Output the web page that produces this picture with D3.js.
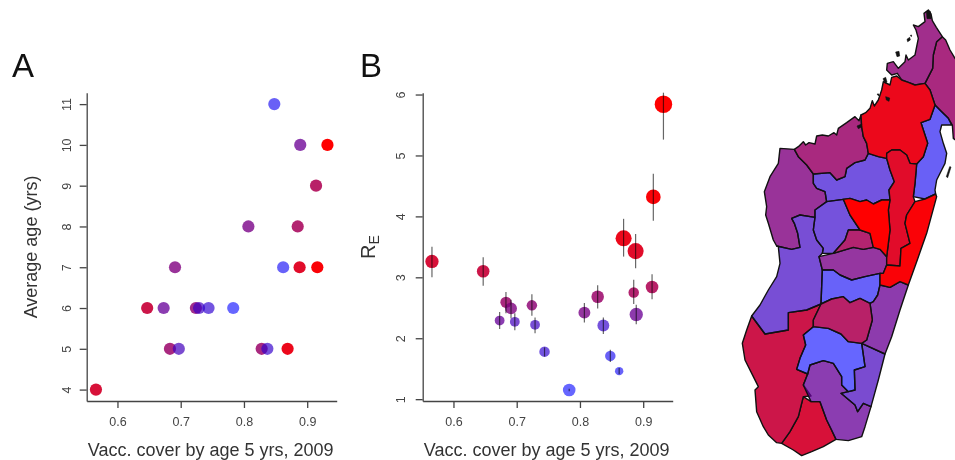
<!DOCTYPE html>
<html>
<head>
<meta charset="utf-8">
<script src="https://cdn.jsdelivr.net/npm/d3@7"></script>
<style>
  html, body { margin: 0; background: #fff; }
  svg { display: block; filter: blur(0.4px); }
  text { font-family: "Liberation Sans", Arial, sans-serif; }
</style>
</head>
<body>
<svg width="955" height="460"></svg>
<script>
// one entry per district, sorted by vaccination cover
var coverage = [.566, .647, .673, .683, .691, .697, .724, .729, .744, .783, .807,
                .828, .837, .848, .862, .869, .885, .888, .889, .914, .916, .932]
var averageAge = [4, 6, 6, 5, 7, 5, 6, 6, 6, 6, 8, 5, 5, 11, 7, 5, 8, 7, 10, 9, 7, 10]
var re = [3.26, 3.10, 2.29, 2.59, 2.49, 2.27, 2.54, 2.22, 1.78, 1.15, 2.42,
          2.68, 2.21, 1.71, 1.46, 3.64, 2.75, 3.43, 2.39, 2.84, 4.32, 5.84]
var reLow = [3.00, 2.86, 2.15, 2.41, 2.33, 2.13, 2.37, 2.08, 1.70, 1.13, 2.26,
             2.49, 2.07, 1.61, 1.41, 3.34, 2.56, 3.15, 2.23, 2.64, 3.93, 5.26]
var reHigh = [3.50, 3.33, 2.43, 2.76, 2.63, 2.41, 2.72, 2.34, 1.85, 1.17, 2.58,
              2.87, 2.34, 1.81, 1.51, 3.96, 2.96, 3.71, 2.55, 3.05, 4.70, 6.03]
var weight = [1.9, 1.8, 1.4, 1.6, 1.7, 1.4, 1.5, 1.4, 1.5, 1.8, 1.7,
              1.8, 1.7, 1.5, 1.2, 2.3, 1.5, 2.3, 1.9, 1.8, 2.1, 2.5]
var redness = [.83, .78, .40, .60, .50, .26, .55, .24, .18, 0, .47,
               .60, .20, .06, .04, .92, .65, .88, .42, .68, .98, 1]
var xTicks = [.6, .7, .8, .9]
var ageTicks = [4, 5, 6, 7, 8, 9, 10, 11]
var reTicks = [1, 2, 3, 4, 5, 6]

// district outlines in map units, same order as the arrays above
var outlines = [
  [[205,1190],[228,1205],[255,1205],[275,1260],[290,1290],[303,1318],[265,1340],[230,1355],[200,1367],[175,1350],[140,1330],[165,1295],[190,1250]],
  [[50,948],[90,1002],[160,990],[160,938],[215,930],[258,912],[235,960],[235,980],[205,1005],[212,1035],[195,1075],[185,1108],[218,1122],[205,1155],[228,1188],[205,1190],[190,1250],[165,1295],[140,1330],[125,1328],[100,1305],[85,1280],[65,1235],[60,1170],[70,1160],[55,1130],[30,1080],[22,1030],[35,990]],
  [[218,1122],[225,1095],[265,1082],[295,1090],[320,1130],[320,1155],[340,1175],[318,1180],[360,1215],[368,1235],[385,1210],[408,1220],[390,1280],[380,1310],[340,1322],[303,1318],[275,1260],[255,1205],[228,1205],[205,1155]],
  [[622,110],[605,125],[595,165],[593,205],[570,250],[585,270],[600,315],[620,335],[640,355],[652,375],[655,415],[662,420],[680,420],[680,200],[660,175],[645,150],[632,120]],
  [[178,448],[135,445],[130,490],[105,530],[88,575],[95,620],[92,645],[100,670],[115,720],[125,738],[170,748],[195,742],[188,700],[178,670],[170,655],[195,645],[240,652],[240,630],[275,605],[270,575],[245,565],[235,550],[235,522],[215,495],[190,470]],
  [[380,1030],[450,1062],[430,1140],[408,1220],[385,1210],[368,1235],[360,1215],[318,1180],[340,1175],[360,1170],[358,1110],[390,1100]],
  [[580,30],[588,42],[592,62],[604,82],[622,110],[605,125],[595,165],[593,205],[570,250],[540,255],[520,247],[500,240],[487,220],[470,225],[455,210],[457,190],[475,185],[490,205],[510,185],[513,165],[520,180],[540,165],[550,115],[543,90],[535,75],[550,80],[570,65],[567,40]],
  [[170,655],[195,645],[240,652],[235,690],[245,720],[265,745],[262,760],[252,770],[262,810],[260,860],[258,912],[215,930],[160,938],[160,990],[90,1002],[50,948],[75,915],[100,870],[125,830],[135,790],[130,740],[125,738],[170,748],[195,742],[188,700],[178,670]],
  [[235,522],[285,518],[305,540],[330,530],[335,505],[360,488],[390,480],[400,460],[430,470],[455,475],[465,510],[478,545],[462,570],[465,600],[440,600],[415,612],[395,600],[375,605],[345,595],[325,598],[275,605],[270,575],[245,565],[235,550]],
  [[235,980],[280,985],[318,1002],[340,1025],[380,1030],[390,1100],[358,1110],[360,1170],[340,1175],[320,1155],[320,1130],[295,1090],[265,1082],[225,1095],[218,1122],[185,1108],[195,1075],[212,1035],[205,1005]],
  [[252,770],[295,760],[355,742],[385,748],[415,742],[435,748],[455,770],[455,795],[445,820],[435,820],[390,830],[350,840],[315,825],[295,810],[262,810]],
  [[378,345],[380,380],[385,410],[395,430],[400,460],[390,480],[360,488],[335,505],[330,530],[305,540],[285,518],[235,522],[215,495],[190,470],[178,448],[190,440],[205,425],[212,435],[222,428],[240,432],[245,408],[262,405],[280,408],[297,398],[305,405],[310,385],[335,368],[360,350],[372,362]],
  [[275,605],[325,598],[345,645],[375,690],[340,690],[330,720],[295,760],[262,760],[265,745],[245,720],[235,690],[240,652],[240,630]],
  [[600,315],[620,335],[640,355],[650,375],[620,375],[615,395],[625,430],[635,460],[630,490],[620,510],[605,540],[600,570],[602,582],[570,597],[535,590],[540,550],[545,492],[565,470],[578,430],[565,390],[558,368],[585,358]],
  [[262,810],[295,810],[315,825],[350,840],[390,830],[435,820],[435,855],[428,885],[415,905],[405,910],[375,895],[345,908],[325,890],[290,897],[258,912],[260,860]],
  [[485,228],[500,240],[520,247],[540,255],[570,250],[585,270],[600,315],[585,358],[558,368],[565,390],[578,430],[565,470],[545,492],[525,490],[515,465],[495,450],[470,450],[455,460],[455,475],[430,470],[400,460],[395,430],[385,410],[380,380],[378,345],[392,338],[405,325],[412,302],[418,318],[430,300],[440,270],[445,245],[465,255],[470,232]],
  [[295,760],[330,720],[340,690],[375,690],[405,700],[415,742],[385,748],[355,742]],
  [[455,460],[455,475],[465,510],[478,545],[462,570],[465,600],[460,630],[465,690],[455,770],[455,795],[495,798],[498,745],[525,730],[510,670],[515,645],[540,605],[535,590],[540,550],[545,492],[525,490],[515,465],[495,450],[470,450]],
  [[520,855],[495,845],[465,862],[435,855],[428,885],[415,905],[405,910],[412,960],[395,1020],[380,1030],[450,1062],[470,1010],[495,930]],
  [[258,912],[290,897],[325,890],[345,908],[375,895],[405,910],[412,960],[395,1020],[380,1030],[340,1025],[318,1002],[280,985],[235,980],[235,960]],
  [[540,605],[570,597],[602,582],[605,590],[575,700],[545,785],[520,855],[495,845],[465,862],[435,855],[435,820],[445,820],[455,795],[495,798],[498,745],[525,730],[510,670],[515,645]],
  [[325,598],[345,595],[375,605],[395,600],[415,612],[440,600],[465,600],[460,630],[465,690],[455,770],[435,748],[415,742],[405,700],[375,690],[345,645]]
]
var islets = [
  [[574,34],[586,34],[588,56],[576,56]],
  [[516,118],[524,112],[526,120],[518,125]],
  [[526,106],[530,105],[529,110]],
  [[634,530],[644,500],[648,501],[638,533]],
  [[444,236],[452,232],[456,246],[450,250]],
  [[426,282],[432,282],[431,288]],
  [[452,290],[464,294],[462,304],[454,300]],
  [[366,378],[380,372],[378,382],[370,386]],
  [[482,156],[492,154],[494,168],[486,170]]
]

var svg = d3.select('svg')

var fillFor = function(p) {
  var a = 0.6 + 0.4 * p
  return 'rgba(' + Math.round(255 * p) + ',0,' + Math.round(255 * (1 - p)) + ',' + a + ')'
}

// R style axis range, 4% either side of the data
var padded = function(values) {
  var ext = d3.extent(values), pad = (ext[1] - ext[0]) * 0.04
  return [ext[0] - pad, ext[1] + pad]
}

function styleAxis(g) {
  g.selectAll('path, line').attr('stroke', '#444').attr('stroke-width', 1.3)
  g.selectAll('text').attr('fill', '#444').style('font-size', '12.5px')
}

function panel(opts) {
  var x = d3.scaleLinear().domain(padded(coverage)).range(opts.xRange)
  var y = d3.scaleLinear().domain(opts.yDomain).range([401, 92.7])

  var xAxis = d3.axisBottom(x).tickValues(xTicks).tickFormat(d3.format('.1f'))
    .tickSizeInner(7).tickSizeOuter(0).tickPadding(9)
  svg.append('g').attr('transform', 'translate(0,401)').call(xAxis).call(styleAxis)

  var yAxis = d3.axisLeft(y).tickValues(opts.yTicks).tickFormat(d3.format('d'))
    .tickSizeInner(7).tickSizeOuter(0)
  var yg = svg.append('g').attr('transform', 'translate(' + opts.xRange[0] + ',0)').call(yAxis).call(styleAxis)
  yg.selectAll('.tick text')
    .attr('transform', 'rotate(-90)')
    .attr('x', 0).attr('y', opts.tickOffset).attr('dy', 0)
    .attr('text-anchor', 'middle')

  svg.append('text').attr('x', opts.panelX).attr('y', 77).style('font-size', '33px').attr('fill', '#111').text(opts.name)

  svg.append('text')
    .attr('x', (opts.xRange[0] + opts.xRange[1]) / 2 - 1)
    .attr('y', 456)
    .attr('text-anchor', 'middle')
    .attr('fill', '#333')
    .style('font-size', '18px')
    .text('Vacc. cover by age 5 yrs, 2009')

  return {x: x, y: y}
}

// panel A
var a = panel({name: 'A', panelX: 12, xRange: [86.7, 336.7], yDomain: padded(averageAge), yTicks: ageTicks, tickOffset: -16})

svg.append('text')
  .attr('transform', 'translate(37,247) rotate(-90)')
  .attr('text-anchor', 'middle')
  .attr('fill', '#333')
  .style('font-size', '18px')
  .text('Average age (yrs)')

svg.append('g').selectAll('circle')
  .data(coverage)
  .join('circle')
  .attr('cx', function(d) { return a.x(d) })
  .attr('cy', function(d, i) { return a.y(averageAge[i]) })
  .attr('r', 6.1)
  .attr('fill', function(d, i) { return fillFor(redness[i]) })

// panel B
var b = panel({name: 'B', panelX: 360, xRange: [422.7, 672.7], yDomain: [.97, 6.03], yTicks: reTicks, tickOffset: -18})

var reLabel = svg.append('text')
  .attr('transform', 'translate(375,247) rotate(-90)')
  .attr('text-anchor', 'middle')
  .attr('fill', '#333')
  .style('font-size', '20px')
reLabel.append('tspan').text('R')
reLabel.append('tspan').attr('dy', 4).style('font-size', '14px').text('E')

var radius = d3.scaleLinear().domain([0, 1]).range([0, 3.5])

svg.append('g').selectAll('circle')
  .data(coverage)
  .join('circle')
  .attr('cx', function(d) { return b.x(d) })
  .attr('cy', function(d, i) { return b.y(re[i]) })
  .attr('r', function(d, i) { return radius(weight[i]) })
  .attr('fill', function(d, i) { return fillFor(redness[i]) })

svg.append('g').selectAll('line')
  .data(coverage)
  .join('line')
  .attr('x1', function(d) { return b.x(d) })
  .attr('x2', function(d) { return b.x(d) })
  .attr('y1', function(d, i) { return b.y(reLow[i]) })
  .attr('y2', function(d, i) { return b.y(reHigh[i]) })
  .attr('stroke', 'rgba(0,0,0,0.6)')
  .attr('stroke-width', 1.2)

// map
var projection = d3.geoIdentity().scale(1 / 3).translate([735, 0])
var mapPath = d3.geoPath(projection)
var toPolygon = function(ring) {
  return {type: 'Polygon', coordinates: [ring.concat([ring[0]])]}
}

svg.append('g').selectAll('path')
  .data(outlines)
  .join('path')
  .attr('d', function(d) { return mapPath(toPolygon(d)) })
  .attr('fill', function(d, i) { return d3.color(fillFor(redness[i])).formatRgb() })
  .attr('stroke', '#111')
  .attr('stroke-width', 1.4)
  .attr('stroke-linejoin', 'round')

svg.append('g').selectAll('path')
  .data(islets)
  .join('path')
  .attr('d', function(d) { return mapPath(toPolygon(d)) })
  .attr('fill', '#111')
  .attr('stroke', '#111')
  .attr('stroke-width', 0.6)
</script>
</body>
</html>
